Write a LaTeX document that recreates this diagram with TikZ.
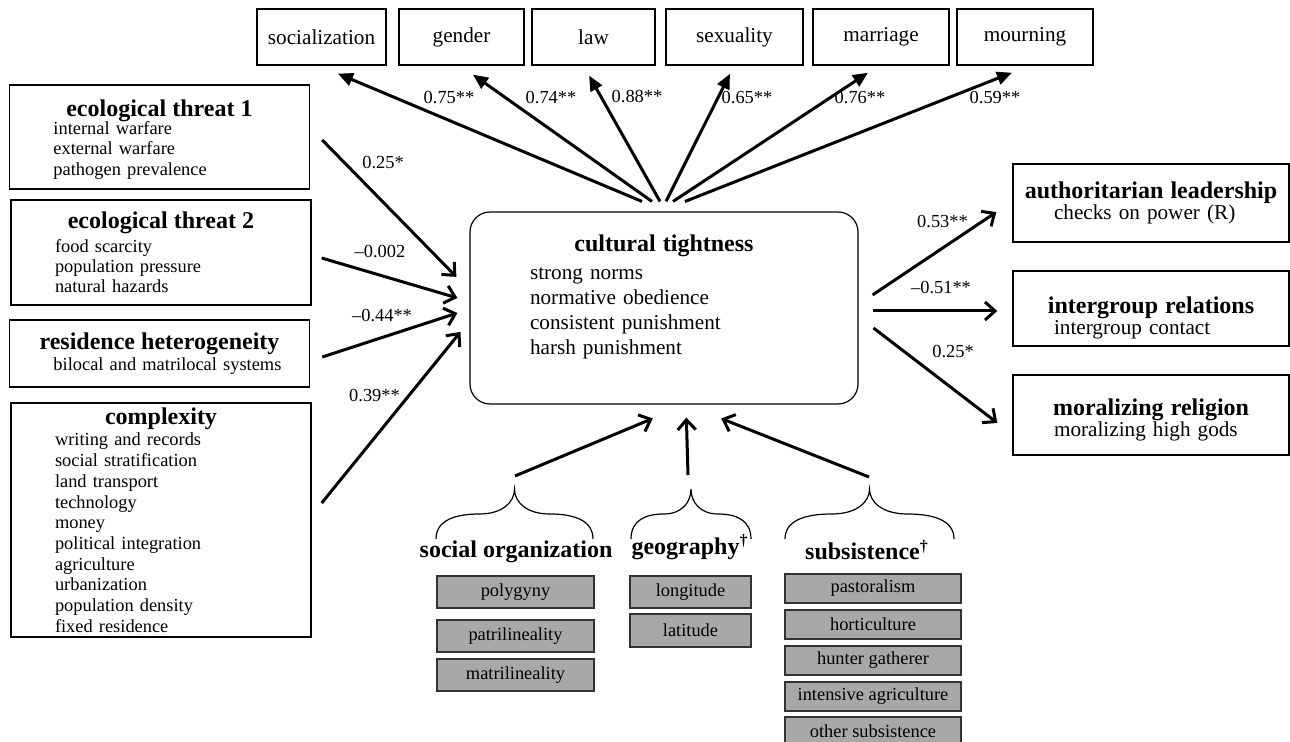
\documentclass[tikz,border=0pt]{standalone}
\usepackage{fontspec}
\setmainfont{Liberation Serif}
\usetikzlibrary{arrows.meta}
\newcommand{\boxhead}[2][0pt]{\makebox[\linewidth]{\rule{0pt}{#1}\fontsize{12}{12}\selectfont\bfseries #2}}

\begin{document}
\begin{tikzpicture}[x=0.5pt,y=-0.5pt,
	topbox/.style={draw,line width=0.75pt,minimum height=28pt,inner sep=0pt,font=\fontsize{10.6}{12}\selectfont},
	leftbox/.style={draw,line width=0.75pt,inner xsep=22pt,inner ysep=0pt,text width=106pt,align=left,font=\fontsize{9.2}{10.2}\selectfont},
	rightbox/.style={draw,line width=0.75pt,inner xsep=20.5pt,inner ysep=0pt,text width=97pt,align=left,font=\fontsize{10.6}{10.7}\selectfont},
	greybox/.style={draw=black!80,fill=black!34,line width=0.75pt,inner sep=0pt,font=\fontsize{9.2}{10}\selectfont},
	head/.style={inner sep=1pt,font=\fontsize{12}{12}\selectfont\bfseries},
	weight/.style={inner sep=1pt,font=\fontsize{9.2}{10}\selectfont},
	outarrow/.style={line width=1.5pt,-{Triangle[length=7.5pt,width=6.5pt]}},
	inarrow/.style={line width=1.5pt,-{Straight Barb[length=5pt,width=9pt]}},
	curly/.style={line width=0.6pt}]
	\useasboundingbox (0,0) rectangle (1290,742);

	% norm domains
	\node[topbox,minimum width=64.5pt] (soc) at (321.5,37) {socialization};
	\node[topbox,minimum width=62.5pt] (gender) at (461.5,37) {gender};
	\node[topbox,minimum width=61.5pt] (law) at (593.5,37) {law};
	\node[topbox,minimum width=68.5pt] (sex) at (734.5,37) {sexuality};
	\node[topbox,minimum width=68pt] (marr) at (881,37) {marriage};
	\node[topbox,minimum width=68pt] (mourn) at (1025,37) {mourning};

	% predictors
	\node[leftbox,minimum height=52pt] (eco1) at (159.5,137) {\boxhead[11pt]{ecological threat 1}\\[-1.5pt]internal warfare\\external warfare\\pathogen prevalence};
	\node[leftbox,minimum height=52.5pt] (eco2) at (161,252.5) {\boxhead{ecological threat 2}\\[1.5pt]food scarcity\\population pressure\\natural hazards};
	\node[leftbox,minimum height=33.5pt] (res) at (159.5,353.5) {\boxhead{residence heterogeneity}\\\mbox{bilocal and matrilocal systems}};
	\node[leftbox,minimum height=117pt,font=\fontsize{9.2}{10.35}\selectfont] (comp) at (161,520) {\boxhead{complexity}\\[0.5pt]writing and records\\social stratification\\land transport\\technology\\money\\political integration\\agriculture\\urbanization\\population density\\fixed residence};

	% centre
	\node[draw,line width=0.6pt,rounded corners=10pt,minimum width=194pt,minimum height=96pt,inner xsep=30pt,inner ysep=0pt,text width=134pt,align=left,font=\fontsize{10.6}{12.5}\selectfont] (tight) at (664,308) {\boxhead{cultural tightness}\\[1.5pt]strong norms\\normative obedience\\consistent punishment\\harsh punishment\rule[-13pt]{0pt}{1pt}};

	% outcomes
	\node[rightbox,minimum height=39pt] (auth) at (1151,203) {\boxhead{authoritarian leadership}\\checks on power (R)};
	\node[rightbox,minimum height=37.5pt] (inter) at (1151,308.5) {\boxhead[17.5pt]{intergroup relations}\\intergroup contact};
	\node[rightbox,minimum height=40pt] (moral) at (1151,415) {\boxhead[13pt]{moralizing religion}\\moralizing high gods};

	% controls
	\node[head] (sohead) at (516,552) {social organization};
	\node[head] (geohead) at (690,547) {geography\textsuperscript{†}};
	\node[head] (subhead) at (867,550) {subsistence\textsuperscript{†}};
	\node[greybox,minimum width=78.5pt,minimum height=16pt] (poly) at (515.5,592) {polygyny};
	\node[greybox,minimum width=78.5pt,minimum height=16pt] (patri) at (515.5,636) {patrilineality};
	\node[greybox,minimum width=78.5pt,minimum height=16pt] (matri) at (515.5,675) {matrilineality};
	\node[greybox,minimum width=60.5pt,minimum height=16pt] (lon) at (690.5,592) {longitude};
	\node[greybox,minimum width=60.5pt,minimum height=16.5pt] (lat) at (690.5,630.5) {latitude};
	\node[greybox,minimum width=88pt,minimum height=14.5pt] (past) at (873,588.5) {pastoralism};
	\node[greybox,minimum width=88pt,minimum height=14.5pt] (hort) at (873,624.5) {horticulture};
	\node[greybox,minimum width=88pt,minimum height=14.5pt] (hunt) at (873,660.5) {hunter gatherer};
	\node[greybox,minimum width=88pt,minimum height=14.5pt] (agri) at (873,696.5) {intensive agriculture};
	\node[greybox,minimum width=88pt,minimum height=14.5pt] (other) at (873,731.5) {other subsistence};

	% braces
	\foreach \xl/\xr in {436/593,631/751,785/954} {
		\pgfmathsetmacro\xm{(\xl+\xr)/2}
		\pgfmathsetmacro\hw{(\xr-\xl)/2}
		\draw[curly] (\xl,539) .. controls (\xl,520) and (\xl+0.25*\hw,514) .. (\xl+0.55*\hw,514)
			.. controls (\xl+0.85*\hw,514) and (\xm,502) .. (\xm,489)
			.. controls (\xm,502) and (\xr-0.85*\hw,514) .. (\xr-0.55*\hw,514)
			.. controls (\xr-0.25*\hw,514) and (\xr,520) .. (\xr,539);
	}
	\coordinate (sotop) at (515,476);
	\coordinate (geotop) at (688,475);
	\coordinate (subtop) at (869,477);

	% loadings
	\draw[outarrow,shorten <=12.8pt,shorten >=10.2pt] ([xshift=0.8pt]tight.north) -- ([xshift=-1.2pt]soc.south);
	\draw[outarrow,shorten <=8.6pt,shorten >=7.7pt] ([xshift=1pt]tight.north) -- ([xshift=-0.55pt]gender.south);
	\draw[outarrow,shorten <=5.7pt,shorten >=5.7pt] ([xshift=0.8pt]tight.north) -- ([xshift=-5pt]law.south);
	\draw[outarrow,shorten <=5.6pt,shorten >=4.5pt] ([xshift=-1.5pt]tight.north) -- ([xshift=-0.25pt]sex.south);
	\draw[outarrow,shorten <=9pt,shorten >=6.3pt] ([xshift=-3pt]tight.north) -- ([xshift=-1.25pt]marr.south);
	\draw[outarrow,shorten <=13.5pt,shorten >=9.5pt] ([xshift=-2.1pt]tight.north) -- ([xshift=2.3pt]mourn.south);
	\node[weight] (wsoc) at (449,98) {0.75**};
	\node[weight] (wgender) at (551,98) {0.74**};
	\node[weight] (wlaw) at (637,97) {0.88**};
	\node[weight] (wsex) at (747,98) {0.65**};
	\node[weight] (wmarr) at (860,98) {0.76**};
	\node[weight] (wmourn) at (995,98) {0.59**};

	% paths in
	\draw[inarrow,shorten <=8.5pt,shorten >=9.3pt] ([yshift=4.6pt]eco1.east) -- ([yshift=8.9pt]tight.west);
	\draw[inarrow,shorten <=5.2pt,shorten >=6.25pt] ([yshift=-1.3pt]eco2.east) -- ([yshift=3.25pt]tight.west);
	\draw[inarrow,shorten <=6.3pt,shorten >=6.3pt] ([yshift=-3.7pt]res.east) -- ([yshift=-0.55pt]tight.west);
	\draw[inarrow,shorten <=7.9pt,shorten >=7.1pt] ([yshift=2.35pt]comp.east) -- ([yshift=-6.45pt]tight.west);
	\node[weight] (weco1) at (383,163) {0.25*};
	\node[weight] (weco2) at (380,252) {--0.002};
	\node[weight] (wres) at (382,316) {--0.44**};
	\node[weight] (wcomp) at (374.5,396) {0.39**};

	% paths out
	\draw[inarrow,shorten <=8.4pt,shorten >=9.6pt] ([yshift=1.85pt]tight.east) -- ([yshift=0.8pt]auth.west);
	\draw[inarrow,shorten <=7pt,shorten >=7.5pt] ([yshift=-1.5pt]tight.east) -- ([yshift=-1.25pt]inter.west);
	\draw[inarrow,shorten <=9.4pt,shorten >=9.4pt] ([yshift=-4.3pt]tight.east) -- ([yshift=-9.7pt]moral.west);
	\node[weight] (wauth) at (942.5,222) {0.53**};
	\node[weight] (winter) at (941,288) {--0.51**};
	\node[weight] (wmoral) at (953,352) {0.25*};

	% controls in
	\draw[inarrow,shorten >=18pt] (sotop) -- ([xshift=11pt]tight.south);
	\draw[inarrow,shorten >=6.5pt] (geotop) -- ([xshift=11pt]tight.south);
	\draw[inarrow,shorten >=18.9pt] (subtop) -- ([xshift=11pt]tight.south);
\end{tikzpicture}
\end{document}
